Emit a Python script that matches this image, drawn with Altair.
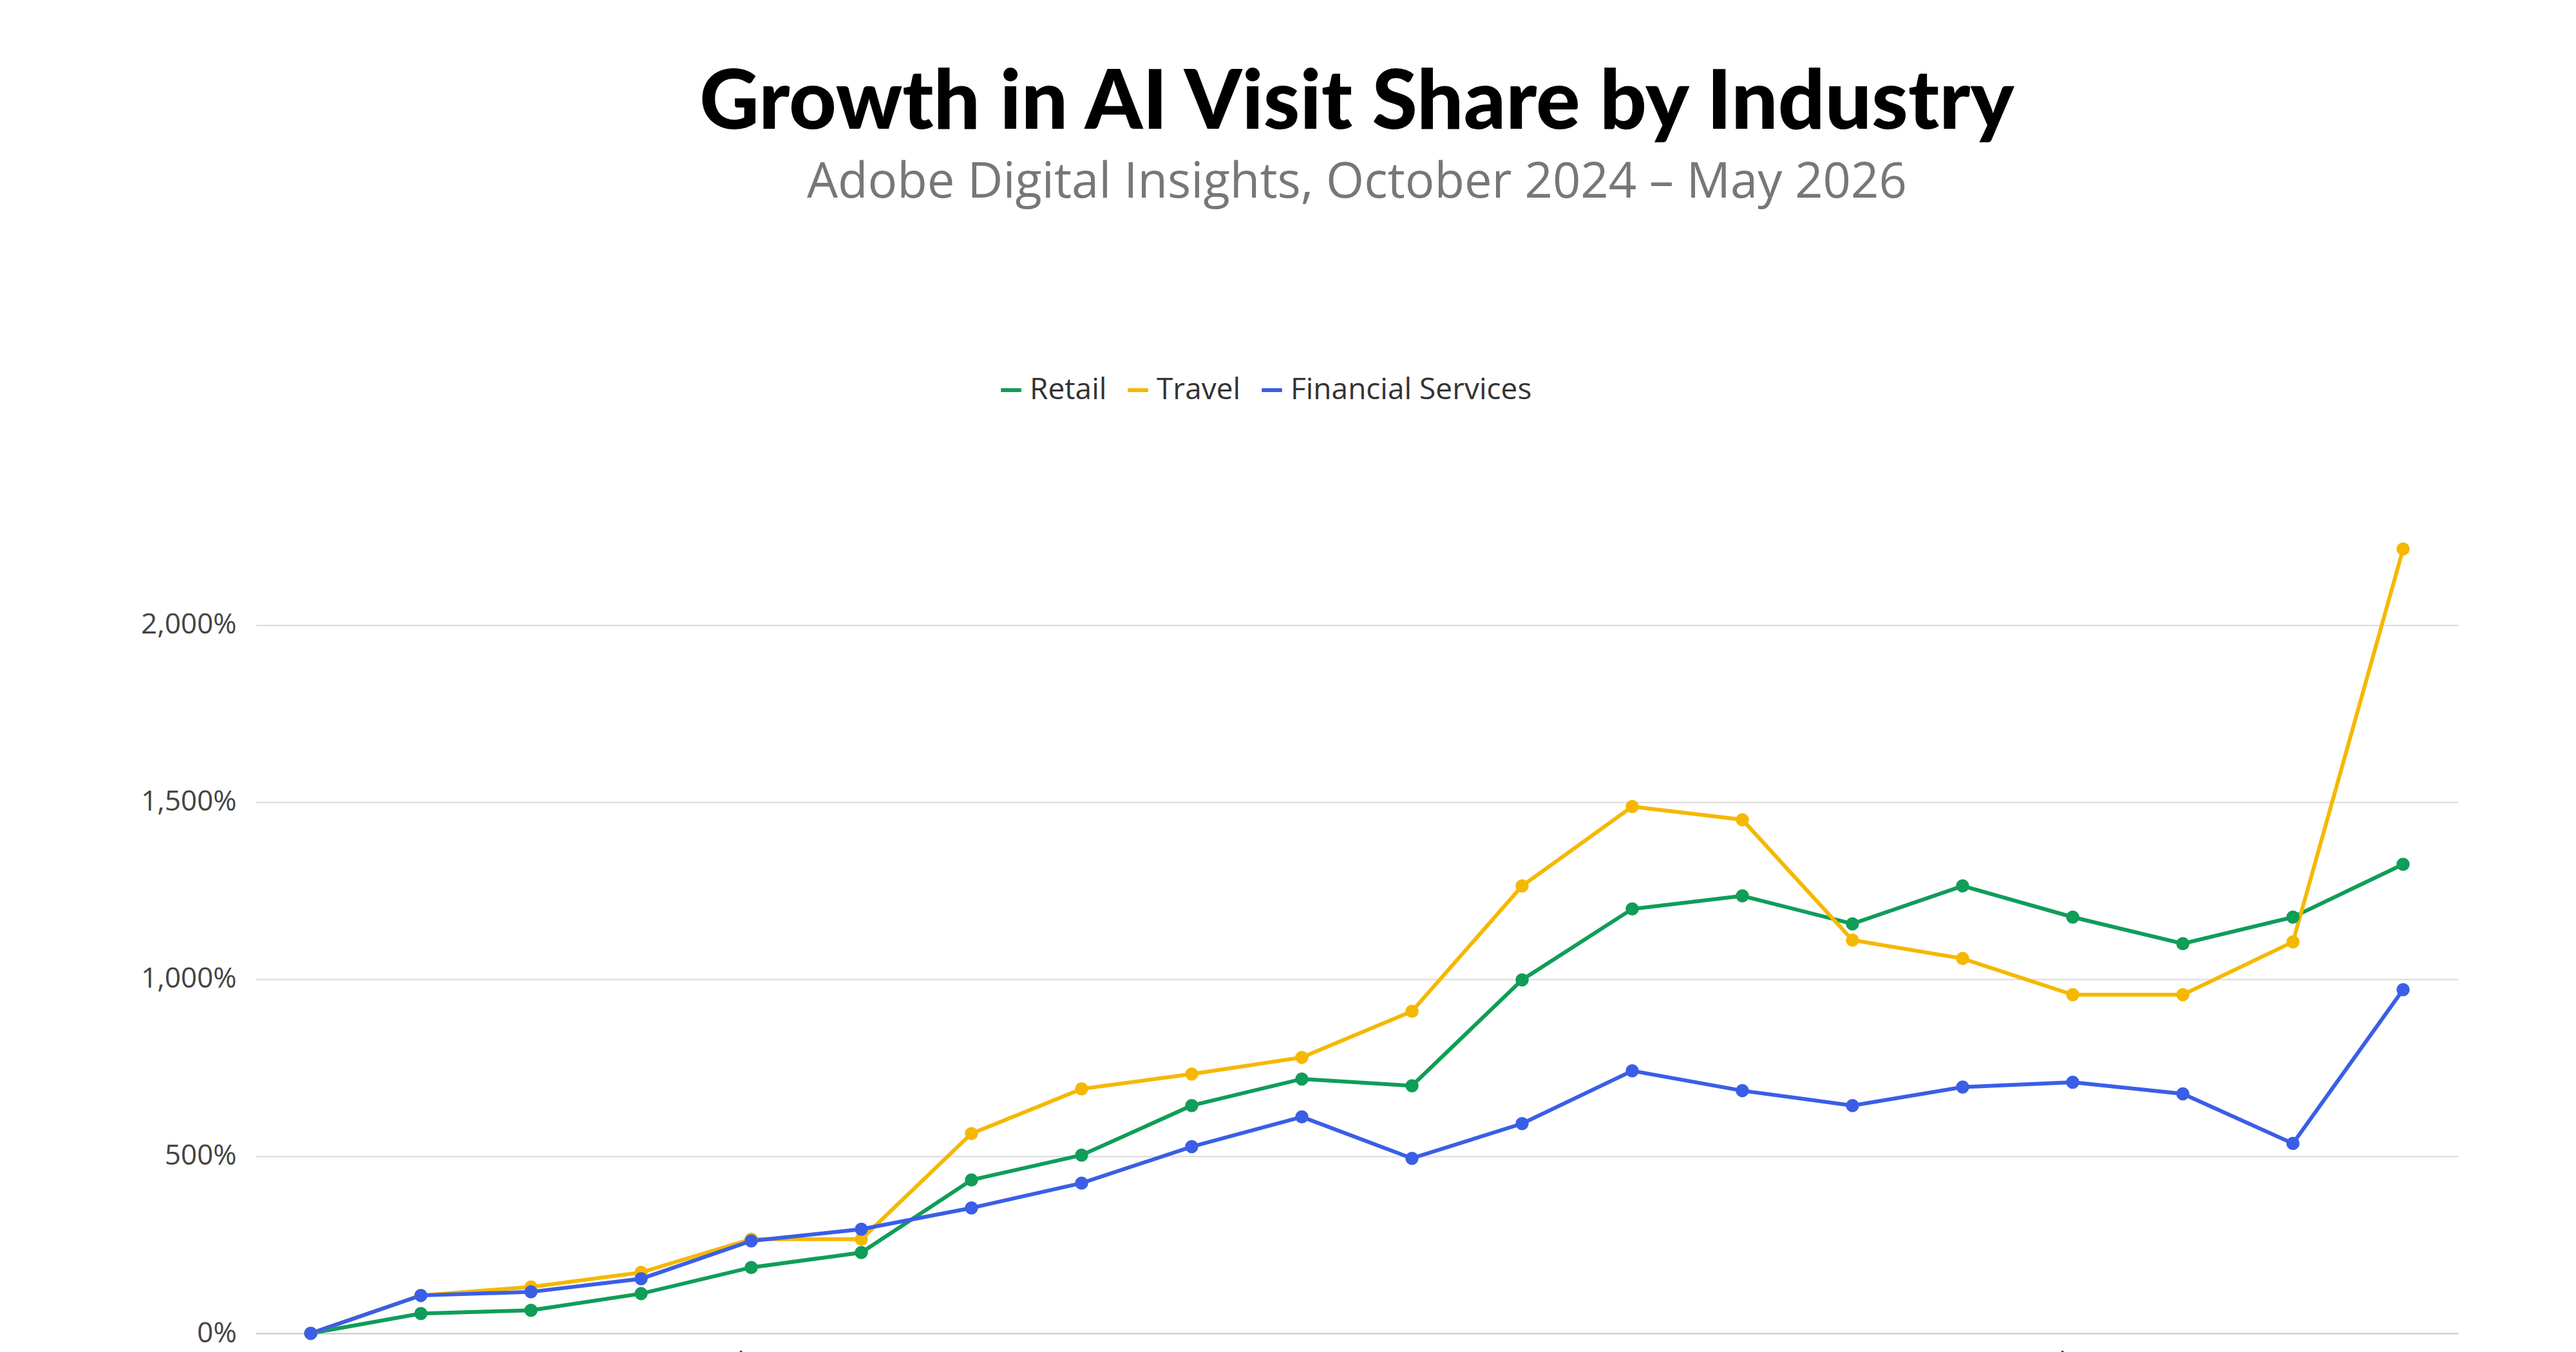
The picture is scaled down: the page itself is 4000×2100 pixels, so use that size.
import altair as alt
import pandas as pd

months = ["Oct-24","Nov-24","Dec-24","Jan-25","Feb-25","Mar-25","Apr-25","May-25","Jun-25","Jul-25",
          "Aug-25","Sep-25","Oct-25","Nov-25","Dec-25","Jan-26","Feb-26","Mar-26","Apr-26","May-26"]
retail = [0,56,65,112,186,228,433,503,643,718,699,998,1198,1235,1156,1263,1175,1100,1175,1324]
travel = [0,107,131,172,266,266,564,690,732,779,909,1263,1487,1450,1110,1058,956,956,1105,2214]
financial = [0,107,117,154,261,294,354,424,527,611,494,592,741,685,643,695,709,676,536,970]

series = ["Retail","Travel","Financial Services"]
colors = ["#0f9d58","#f5b800","#3a5ee6"]

rows = []
for name, vals in zip(series, [retail, travel, financial]):
    for m, v in zip(months, vals):
        rows.append({"Month": m, "Series": name, "Value": v / 100})
df = pd.DataFrame(rows)

chart = alt.Chart(df).mark_line(strokeWidth=6, point=alt.OverlayMarkDef(size=420, filled=True)).encode(
    x=alt.X("Month:O", sort=months, scale=alt.Scale(type="point", padding=0.5),
            axis=alt.Axis(title=None, labelAngle=0, labelFontSize=44, labelColor="#444",
                          labelFont="Open Sans", labelExpr="indexof(['Oct-24','Dec-24','Feb-25','Apr-25','Jun-25','Aug-25','Oct-25','Dec-25','Feb-26','Apr-26'], datum.value) >= 0 ? datum.value : ''",
                          ticks=False, domainColor="#cccccc", domainWidth=2, labelPadding=25, grid=False)),
    y=alt.Y("Value:Q", scale=alt.Scale(domain=[0, 22.5], nice=False),
            axis=alt.Axis(title=None, format=",.0%", values=[0,5,10,15,20], labelFontSize=44,
                          labelColor="#444", labelFont="Open Sans", ticks=False, domain=False,
                          gridColor="#d9d9d9", gridWidth=2, labelPadding=30)),
    color=alt.Color("Series:N", sort=series, scale=alt.Scale(domain=series, range=colors),
                    legend=alt.Legend(title=None, orient="none", legendX=1150, legendY=-250,
                                      direction="horizontal", labelLimit=1000,
                                      labelFontSize=46, labelFont="Open Sans", labelColor="#333",
                                      symbolType="stroke", symbolStrokeWidth=6, symbolSize=1000,
                                      columnPadding=20, labelOffset=6)),
).properties(
    width=3420, height=1238,
    title=alt.TitleParams("Growth in AI Visit Share by Industry",
                          subtitle="Adobe Digital Insights, October 2024 – May 2026",
                          fontSize=128, font="Lato", fontWeight=900, color="#000",
                          subtitleFontSize=76, subtitleFont="Open Sans", subtitleColor="#777",
                          subtitlePadding=20, anchor="middle", offset=260),
    padding={"left": 210, "top": 90, "right": 150, "bottom": 120},
).configure(background="white").configure_view(stroke=None)

chart.save("out.html", embed_options={"renderer": "svg", "actions": False})
